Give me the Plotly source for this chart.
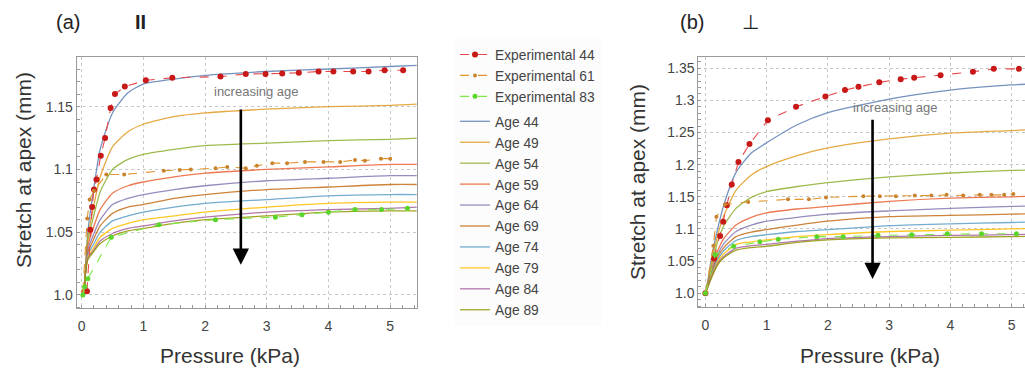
import plotly.graph_objects as go

# ---------------- data ----------------
ages = ["Age 44", "Age 49", "Age 54", "Age 59", "Age 64", "Age 69", "Age 74", "Age 79", "Age 84", "Age 89"]
age_colors = ["#5E81B5", "#E19C24", "#8FB032", "#EB6235", "#8778B3",
              "#C56E1A", "#5D9EC7", "#FFBF00", "#A5609D", "#929600"]

par_pressure = [0.04, 0.065, 0.1, 0.2, 0.3, 0.5, 0.75, 1, 1.5, 2, 3, 4, 5, 5.45]
perp_pressure = [0.0, 0.05, 0.1, 0.2, 0.3, 0.5, 0.75, 1, 1.5, 2, 3, 4, 5, 5.45]

par_age44 = [1.0, 1.022, 1.050, 1.086, 1.116, 1.145, 1.161, 1.168, 1.172, 1.175, 1.178, 1.180, 1.182, 1.183]
par_age49 = [1.0, 1.021, 1.046, 1.072, 1.094, 1.118, 1.130, 1.136, 1.142, 1.145, 1.148, 1.150, 1.151, 1.152]
par_age54 = [1.0, 1.021, 1.043, 1.064, 1.082, 1.100, 1.108, 1.112, 1.116, 1.119, 1.121, 1.123, 1.124, 1.125]
par_age59 = [1.0, 1.020, 1.039, 1.055, 1.068, 1.081, 1.087, 1.090, 1.094, 1.097, 1.100, 1.102, 1.104, 1.104]
par_age64 = [1.0, 1.020, 1.036, 1.049, 1.060, 1.072, 1.077, 1.080, 1.084, 1.087, 1.091, 1.093, 1.095, 1.095]
par_age69 = [1.0, 1.020, 1.034, 1.045, 1.055, 1.065, 1.070, 1.072, 1.077, 1.080, 1.084, 1.086, 1.088, 1.088]
par_age74 = [1.0, 1.019, 1.032, 1.041, 1.050, 1.059, 1.063, 1.066, 1.070, 1.073, 1.076, 1.079, 1.080, 1.080]
par_age79 = [1.0, 1.019, 1.030, 1.038, 1.046, 1.053, 1.057, 1.060, 1.063, 1.066, 1.070, 1.073, 1.074, 1.074]
par_age84 = [1.0, 1.019, 1.029, 1.036, 1.043, 1.049, 1.053, 1.055, 1.059, 1.062, 1.066, 1.068, 1.069, 1.070]
par_age89 = [1.0, 1.018, 1.028, 1.035, 1.041, 1.047, 1.051, 1.053, 1.057, 1.060, 1.063, 1.066, 1.067, 1.067]

perp_age44 = [1.0, 1.025, 1.055, 1.100, 1.137, 1.188, 1.218, 1.234, 1.262, 1.281, 1.302, 1.316, 1.324, 1.326]
perp_age49 = [1.0, 1.022, 1.048, 1.090, 1.120, 1.160, 1.184, 1.197, 1.214, 1.226, 1.240, 1.249, 1.253, 1.255]
perp_age54 = [1.0, 1.020, 1.042, 1.080, 1.105, 1.132, 1.149, 1.158, 1.166, 1.172, 1.181, 1.187, 1.191, 1.192]
perp_age59 = [1.0, 1.018, 1.036, 1.066, 1.085, 1.106, 1.118, 1.125, 1.131, 1.135, 1.143, 1.148, 1.150, 1.151]
perp_age64 = [1.0, 1.017, 1.033, 1.060, 1.077, 1.096, 1.106, 1.112, 1.118, 1.123, 1.128, 1.132, 1.135, 1.136]
perp_age69 = [1.0, 1.016, 1.031, 1.056, 1.071, 1.088, 1.095, 1.099, 1.106, 1.112, 1.119, 1.121, 1.123, 1.124]
perp_age74 = [1.0, 1.015, 1.029, 1.052, 1.066, 1.082, 1.088, 1.091, 1.096, 1.099, 1.105, 1.108, 1.110, 1.111]
perp_age79 = [1.0, 1.014, 1.027, 1.049, 1.061, 1.076, 1.080, 1.083, 1.088, 1.091, 1.096, 1.098, 1.100, 1.101]
perp_age84 = [1.0, 1.013, 1.025, 1.046, 1.057, 1.070, 1.074, 1.076, 1.081, 1.085, 1.088, 1.090, 1.091, 1.092]
perp_age89 = [1.0, 1.012, 1.024, 1.044, 1.055, 1.067, 1.071, 1.073, 1.079, 1.083, 1.086, 1.087, 1.088, 1.089]

par_models = [par_age44, par_age49, par_age54, par_age59, par_age64,
              par_age69, par_age74, par_age79, par_age84, par_age89]
perp_models = [perp_age44, perp_age49, perp_age54, perp_age59, perp_age64,
               perp_age69, perp_age74, perp_age79, perp_age84, perp_age89]

# experimental (parallel)
par_exp44_x = [0.086, 0.14, 0.17, 0.2, 0.24, 0.31, 0.38, 0.47, 0.54, 0.70, 1.04, 1.47, 2.25,
               2.66, 2.98, 3.25, 3.52, 3.84, 4.08, 4.40, 4.65, 4.91, 5.21]
par_exp44_y = [1.003, 1.052, 1.070, 1.084, 1.092, 1.111, 1.125, 1.149, 1.160, 1.166, 1.171, 1.173, 1.174,
               1.176, 1.176, 1.1765, 1.177, 1.178, 1.178, 1.178, 1.178, 1.179, 1.179]
par_exp61_x = [0.02, 0.09, 0.13, 0.2, 0.40, 0.69, 1.33, 1.59, 1.77, 2.17, 2.36, 2.66, 2.84,
               3.09, 3.33, 3.62, 3.92, 4.19, 4.43, 4.59, 4.85, 5.0]
par_exp61_y = [1.003, 1.061, 1.076, 1.083, 1.096, 1.096, 1.099, 1.0996, 1.100, 1.101, 1.102, 1.101, 1.103,
               1.105, 1.105, 1.106, 1.106, 1.106, 1.1075, 1.107, 1.1086, 1.1086]
par_exp83_x = [0.02, 0.05, 0.10, 0.48, 1.25, 2.17, 3.14, 3.57, 4.0, 4.43, 4.86, 5.28]
par_exp83_y = [1.0, 1.0066, 1.013, 1.046, 1.056, 1.060, 1.062, 1.064, 1.066, 1.068, 1.068, 1.069]

# experimental (perpendicular)
perp_exp44_x = [0.0, 0.14, 0.24, 0.29, 0.35, 0.43, 0.54, 0.72, 1.02, 1.48, 1.96, 2.28, 2.50,
                2.84, 3.19, 3.41, 3.84, 4.37, 4.71, 5.12]
perp_exp44_y = [1.0, 1.054, 1.089, 1.111, 1.137, 1.169, 1.204, 1.232, 1.269, 1.290, 1.306, 1.316, 1.321,
                1.328, 1.333, 1.335, 1.339, 1.3445, 1.349, 1.349]
perp_exp61_x = [0.0, 0.13, 0.18, 0.32, 0.70, 1.35, 1.69, 1.97, 2.58, 2.85, 3.11, 3.42, 3.69,
                3.94, 4.21, 4.48, 4.67, 4.88, 5.03]
perp_exp61_y = [1.0, 1.074, 1.119, 1.138, 1.142, 1.146, 1.146, 1.149, 1.151, 1.151, 1.151, 1.152, 1.152,
                1.153, 1.152, 1.153, 1.153, 1.153, 1.1545]
perp_exp83_x = [0.0, 0.16, 0.46, 0.89, 1.19, 1.82, 2.25, 2.82, 3.37, 3.95, 4.51, 5.08]
perp_exp83_y = [1.0, 1.060, 1.073, 1.080, 1.084, 1.088, 1.088, 1.090, 1.091, 1.0925, 1.0925, 1.0925]

exp_names = ["Experimental 44", "Experimental 61", "Experimental 83"]
exp_line_colors = ["#e8484a", "#e0962c", "#7ee84a"]
exp_marker_colors = ["#c81818", "#c8832c", "#5ad62a"]
exp_marker_sizes = [6, 4, 5]

par_ticks = [1.0, 1.05, 1.1, 1.15]
par_tick_text = ["1.0", "1.05", "1.1", "1.15"]
perp_ticks = [1.0, 1.05, 1.1, 1.15, 1.2, 1.25, 1.3, 1.35]
perp_tick_text = ["1.0", "1.05", "1.1", "1.15", "1.2", "1.25", "1.3", "1.35"]
x_ticks = [0, 1, 2, 3, 4, 5]

x_title = "Pressure (kPa)"
y_title = "Stretch at apex (mm)"

# ---------------- figure ----------------
FONT = "Liberation Sans"
fig = go.Figure()

panels = [
    (par_pressure, par_models,
     [(par_exp44_x, par_exp44_y), (par_exp61_x, par_exp61_y), (par_exp83_x, par_exp83_y)]),
    (perp_pressure, perp_models,
     [(perp_exp44_x, perp_exp44_y), (perp_exp61_x, perp_exp61_y), (perp_exp83_x, perp_exp83_y)]),
]
for panel, (px_, models, exps) in enumerate(panels):
    xa = "x" if panel == 0 else "x2"
    ya = "y" if panel == 0 else "y2"
    for i, (name, ys) in enumerate(zip(ages, models)):
        fig.add_trace(go.Scatter(
            x=px_, y=ys, mode="lines", name=name, xaxis=xa, yaxis=ya,
            line=dict(color=age_colors[i], width=1.3, shape="spline", smoothing=0.6),
            opacity=0.85, legendgroup="age", legendrank=100 + i, showlegend=(panel == 0)))
    for i, (name, (ex, ey)) in enumerate(zip(exp_names, exps)):
        fig.add_trace(go.Scatter(
            x=ex, y=ey, mode="lines+markers", name=name, xaxis=xa, yaxis=ya,
            line=dict(color=exp_line_colors[i], width=1.1, dash="dash"),
            marker=dict(color=exp_marker_colors[i], size=exp_marker_sizes[i]),
            legendgroup="exp", legendrank=10 + i, showlegend=(panel == 0)))

axis_common = dict(
    showgrid=True, gridcolor="#c8c8c8", griddash="dot", gridwidth=1,
    showline=True, linecolor="#9a9a9a", linewidth=1, mirror=True,
    ticks="", zeroline=False, automargin=False,
    tickfont=dict(family=FONT, size=14, color="#444"),
)
xminor = dict(ticks="inside", ticklen=3, tickcolor="#9a9a9a", dtick=0.2, showgrid=False)
yminor = dict(ticks="inside", ticklen=3, tickcolor="#9a9a9a", dtick=0.01, showgrid=False)

W, H = 1025, 368
fig.update_layout(
    width=W, height=H,
    margin=dict(l=0, r=0, t=0, b=0, autoexpand=False),
    paper_bgcolor="white", plot_bgcolor="white",
    font=dict(family=FONT, color="#333"),
    xaxis=dict(axis_common, domain=[76.7 / W, 416.7 / W], range=[-0.08, 5.43],
               tickvals=x_ticks, anchor="y", minor=xminor, ticklabelstandoff=5),
    yaxis=dict(axis_common, domain=[(H - 308.3) / H, (H - 56.7) / H], range=[0.9894, 1.1898],
               tickvals=par_ticks, ticktext=par_tick_text, anchor="x", minor=yminor),
    xaxis2=dict(axis_common, domain=[698.3 / W, 1.0], range=[-0.116, 5.22],
                tickvals=x_ticks, anchor="y2", minor=xminor, ticklabelstandoff=5),
    yaxis2=dict(axis_common, domain=[(H - 306.7) / H, (H - 57.3) / H], range=[0.979, 1.367],
                tickvals=perp_ticks, ticktext=perp_tick_text, anchor="x2", minor=yminor),
    legend=dict(x=455 / W, y=(H - 39) / H, xanchor="left", yanchor="top",
                font=dict(family=FONT, size=13.8, color="#444"),
                bgcolor="#fcfcfc", traceorder="grouped", tracegroupgap=4,
                itemwidth=30),
    showlegend=True,
)

# axis titles as annotations (pixel placement)
for cx, cy in [(230, 355), (870, 355)]:
    fig.add_annotation(x=cx / W, y=(H - cy) / H, xref="paper", yref="paper", text=x_title,
                       showarrow=False, xanchor="center", yanchor="middle",
                       font=dict(family=FONT, size=21, color="#333"))
for cx, cy in [(23, 170), (637, 182)]:
    fig.add_annotation(x=cx / W, y=(H - cy) / H, xref="paper", yref="paper", text=y_title,
                       showarrow=False, xanchor="center", yanchor="middle", textangle=-90,
                       font=dict(family=FONT, size=21, color="#333"))

# arrows + labels
arrow_specs = [
    ("x", "y", 2.58, 1.149, 1.024, 2.84, 1.162),
    ("x2", "y2", 2.73, 1.272, 1.022, 3.10, 1.289),
]
for xr, yr, ax_x, y_top, y_bot, tx, ty in arrow_specs:
    fig.add_annotation(x=ax_x, y=y_bot, ax=ax_x, ay=y_top, xref=xr, yref=yr, axref=xr, ayref=yr,
                       showarrow=True, arrowhead=2, arrowsize=1.25, arrowwidth=2.6, arrowcolor="black", text="")
    fig.add_annotation(x=tx, y=ty, xref=xr, yref=yr, text="increasing age", showarrow=False,
                       font=dict(family=FONT, size=13, color="#777"))

for txt, px in [("(a)", 68), ("<b>II</b>", 140), ("(b)", 692), ("⊥", 750)]:
    fig.add_annotation(x=px / W, y=(H - 22) / H, xref="paper", yref="paper", text=txt, showarrow=False,
                       xanchor="center", yanchor="middle",
                       font=dict(family=FONT, size=20, color="#222"))

fig.write_html("out.html", config={"displayModeBar": False},
               post_script="document.body.style.margin='0';")
